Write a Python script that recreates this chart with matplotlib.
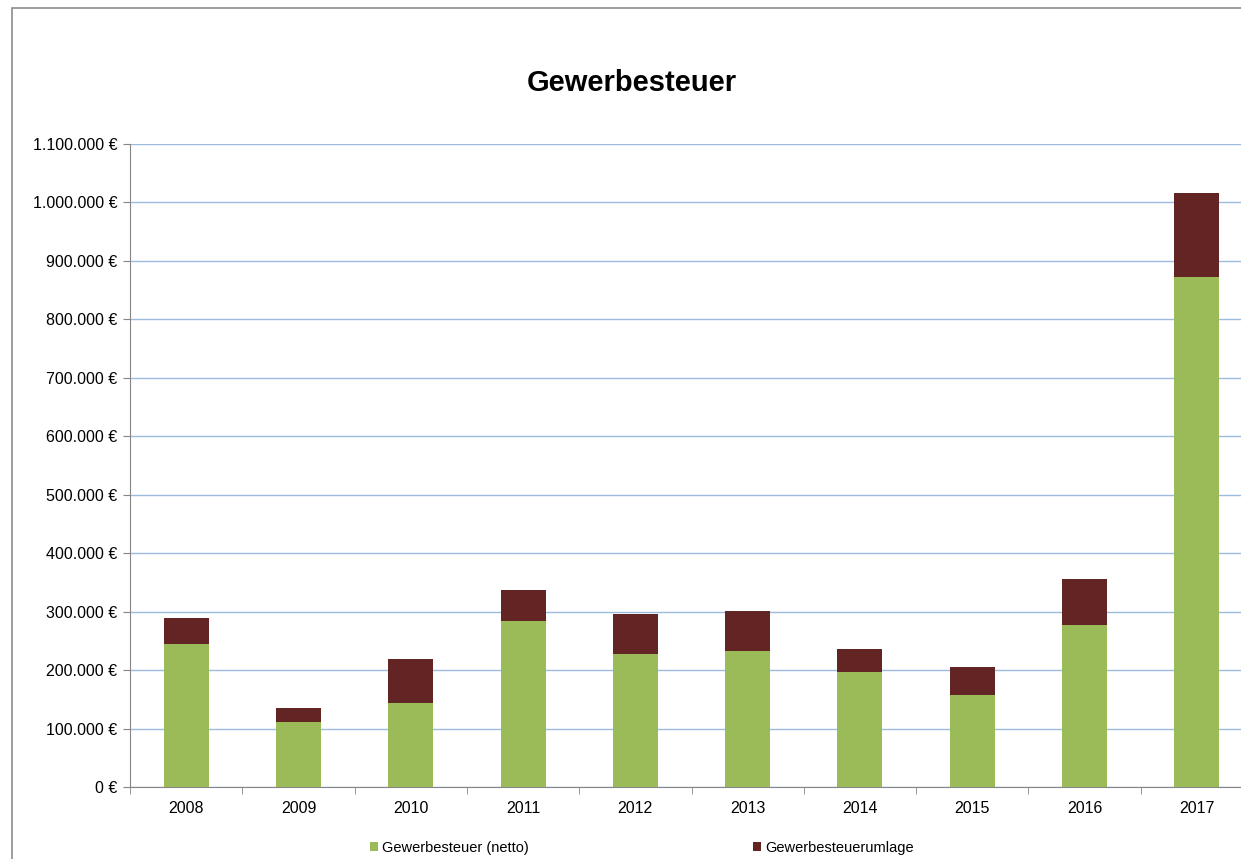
import matplotlib.pyplot as plt
import matplotlib.patches as mpatches
from matplotlib.ticker import FuncFormatter, FixedLocator
import numpy as np

plt.rcParams['font.family'] = ['Liberation Sans', 'DejaVu Sans']

# Data
years = ["2008", "2009", "2010", "2011", "2012", "2013", "2014", "2015", "2016", "2017"]
netto = [245000, 111000, 143000, 284000, 228000, 233000, 197000, 157000, 277000, 873000]
umlage = [44000, 24000, 76000, 53000, 68000, 68000, 39000, 48000, 79000, 143000]

green = "#9BBB59"
darkred = "#632523"
grid_col = "#9DBBDF"
axis_col = "#868686"

fig = plt.figure(figsize=(12.41, 8.59), dpi=100)
ax = fig.add_axes([130 / 1241, 1 - 787 / 859, 1123 / 1241, (787 - 144) / 859])

x = np.arange(len(years))
ax.bar(x, netto, width=0.4, color=green, label="Gewerbesteuer (netto)", zorder=3)
ax.bar(x, umlage, width=0.4, bottom=netto, color=darkred, label="Gewerbesteuerumlage", zorder=3)

ax.set_xlim(-0.5, len(years) - 0.5)
ax.set_ylim(0, 1100000)
ax.set_yticks(np.arange(0, 1100001, 100000))

def euro(v, pos):
    return f"{int(v):,}".replace(",", ".") + " €"

ax.yaxis.set_major_formatter(FuncFormatter(euro))
ax.set_xticks(x)
ax.set_xticklabels(years)
ax.xaxis.set_minor_locator(FixedLocator(np.arange(-0.5, len(years), 1)))
ax.tick_params(axis="x", which="major", length=0, pad=10, labelsize=11.5)
ax.tick_params(axis="x", which="minor", length=5, color=axis_col, direction="out")
ax.tick_params(axis="y", length=5, color=axis_col, pad=4, labelsize=11.5)

ax.grid(axis="y", color=grid_col, linewidth=1, zorder=0)
for s in ["top", "right"]:
    ax.spines[s].set_visible(False)
ax.spines["left"].set_color(axis_col)
ax.spines["bottom"].set_color(axis_col)

fig.text(632 / 1241, 1 - 83 / 859, "Gewerbesteuer", ha="center", va="center",
         fontsize=21, fontweight="bold")

fig.legend(loc="center left", bbox_to_anchor=(357 / 1241, 1 - 848 / 859), ncol=2,
           frameon=False, fontsize=10.5, handlelength=0.55, handleheight=0.55,
           handletextpad=0.25, columnspacing=15.4)

# outer chart frame (cut off at right/bottom)
fig.patches.append(mpatches.Rectangle((12 / 1241, -0.1), 1.2, 1 - 8 / 859 + 0.1,
                                      transform=fig.transFigure, fill=False,
                                      edgecolor="#8C8C8C", linewidth=1.2))

plt.savefig("out.png", dpi=100)
